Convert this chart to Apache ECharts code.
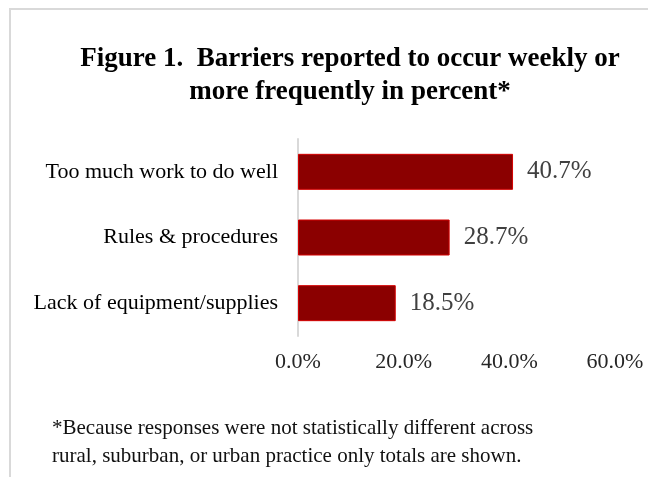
<!DOCTYPE html>
<html>
<head>
<meta charset="utf-8">
<script src="https://cdn.jsdelivr.net/npm/echarts@6/dist/echarts.min.js"></script>
<style>html,body{margin:0;padding:0;background:#fff}#c{width:648px;height:477px}</style>
</head>
<body>
<div id="c"></div>
<script>
const categories = ["Lack of equipment/supplies", "Rules & procedures", "Too much work to do well"];
const values = [18.5, 28.7, 40.7];
const xTicks = [0, 20, 40, 60];
const titleText = "Figure 1.  Barriers reported to occur weekly or\nmore frequently in percent*";
const noteText = "*Because responses were not statistically different across\nrural, suburban, or urban practice only totals are shown.";

const chart = echarts.init(document.getElementById('c'), null, {renderer: 'canvas'});
chart.setOption({
  animation: false,
  backgroundColor: '#fff',
  title: [{
    text: titleText,
    left: 345, top: 38, textAlign: 'center',
    textStyle: {fontFamily: 'Liberation Serif', fontWeight: 'bold', fontSize: 27, lineHeight: 33, color: '#000', align: 'center'}
  }, {
    text: noteText,
    left: 47, top: 409,
    textStyle: {fontFamily: 'Liberation Serif', fontWeight: 'normal', fontSize: 21, lineHeight: 28, color: '#111'}
  }],
  graphic: [
    {type: 'line', shape: {x1: 10, y1: 9, x2: 648, y2: 9}, style: {stroke: '#d9d9d9', lineWidth: 2}},
    {type: 'line', shape: {x1: 10, y1: 8, x2: 10, y2: 477}, style: {stroke: '#d9d9d9', lineWidth: 2}}
  ],
  grid: {left: 298, right: 33, top: 139, bottom: 141, containLabel: false},
  xAxis: {
    type: 'value', min: 0, max: 60, interval: 20,
    axisLine: {show: false}, axisTick: {show: false}, splitLine: {show: false},
    axisLabel: {
      margin: 15, fontFamily: 'Liberation Serif', fontSize: 22, color: '#262626',
      formatter: v => xTicks.includes(v) ? v.toFixed(1) + '%' : ''
    }
  },
  yAxis: {
    type: 'category', data: categories,
    axisLine: {show: true, lineStyle: {color: '#d9d9d9', width: 2}},
    axisTick: {show: false},
    axisLabel: {margin: 20, fontFamily: 'Liberation Serif', fontSize: 22, color: '#000'}
  },
  series: [{
    type: 'bar', data: values, barWidth: 36,
    itemStyle: {color: '#8b0000', borderColor: '#d40000', borderWidth: 1},
    label: {
      show: true, position: 'right', distance: 14,
      fontFamily: 'Liberation Serif', fontSize: 25, color: '#404040',
      formatter: p => p.value.toFixed(1) + '%'
    }
  }]
});
</script>
</body>
</html>
